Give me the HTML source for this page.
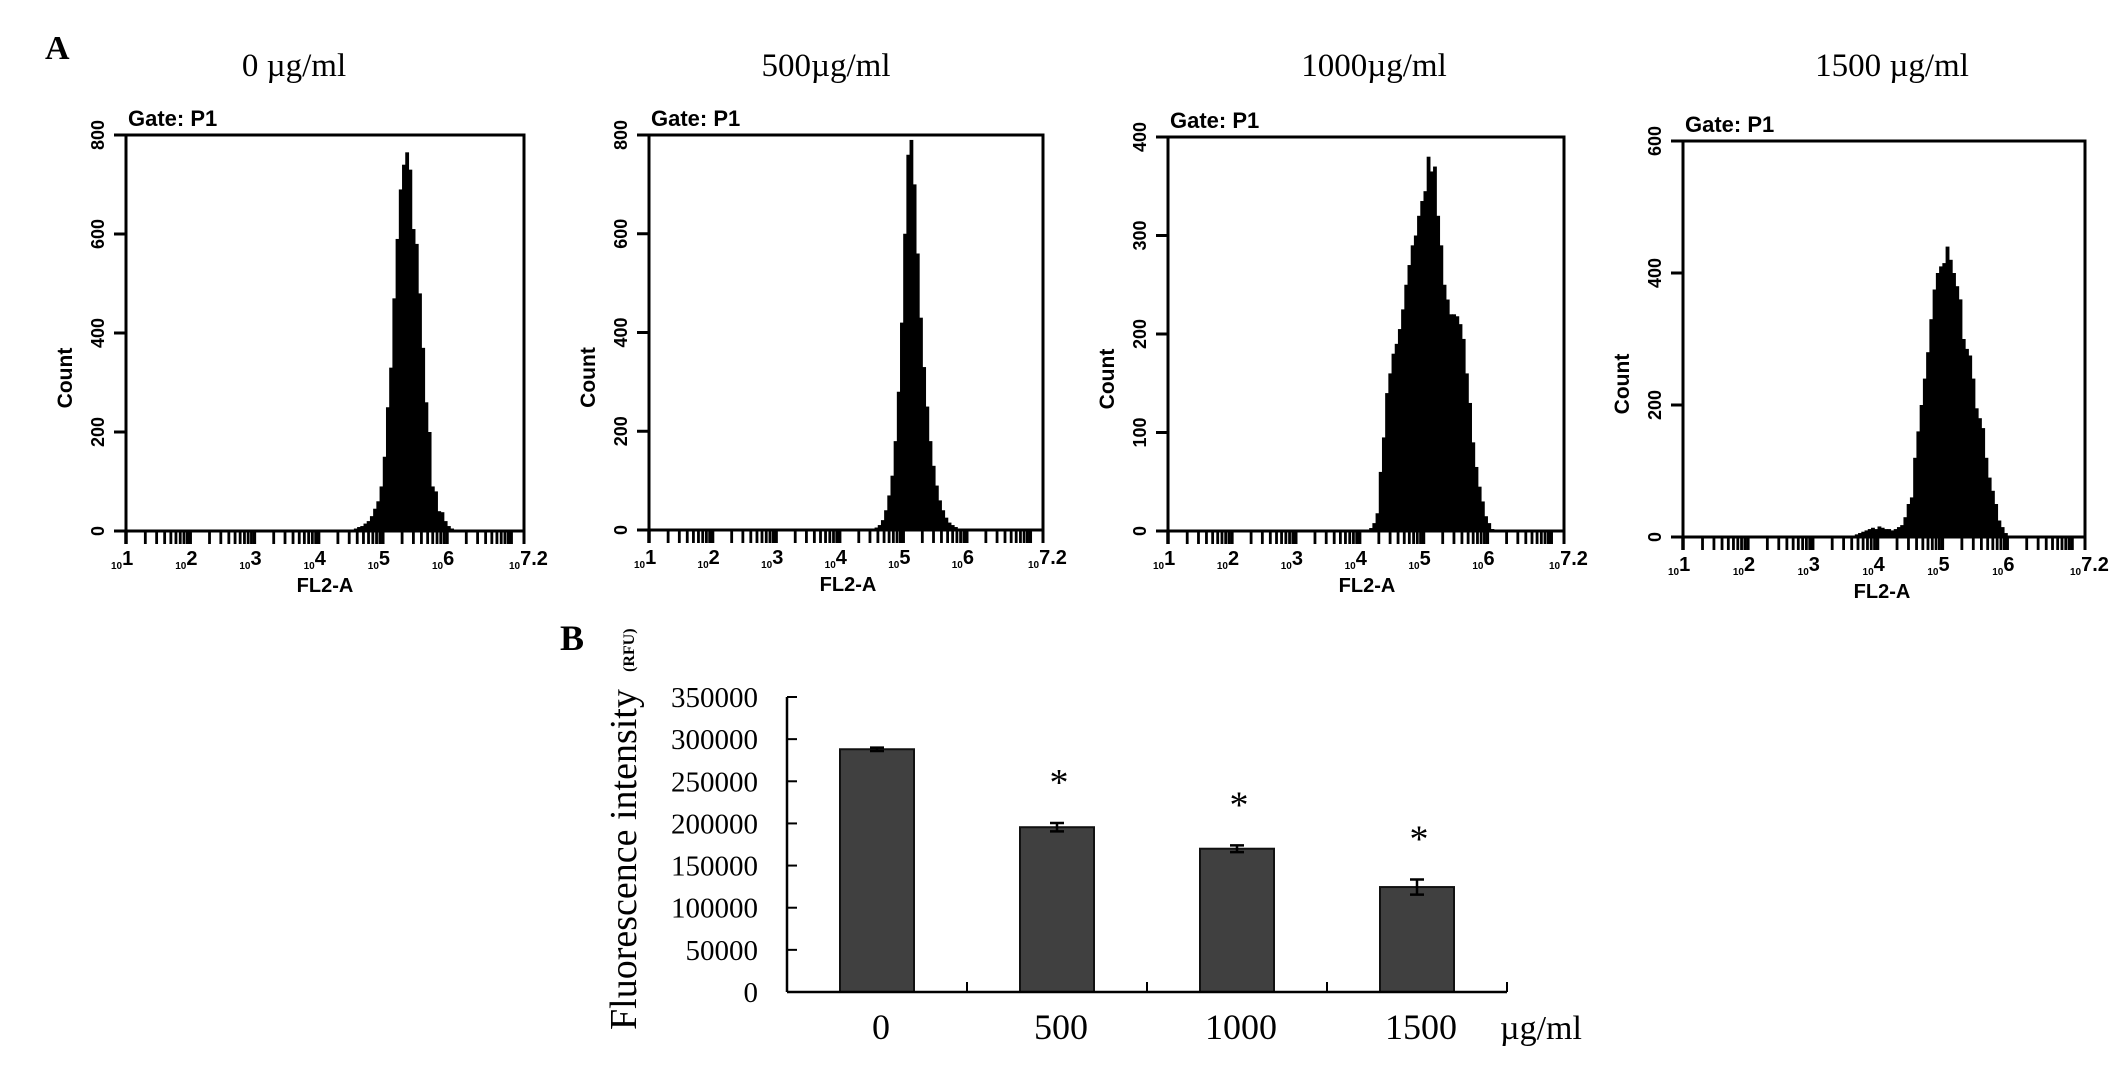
<!DOCTYPE html>
<html><head><meta charset="utf-8">
<style>
html,body{margin:0;padding:0;background:#fff;}
svg{display:block;}
.serif{font-family:"Liberation Serif",serif;}
.sans{font-family:"Liberation Sans",sans-serif;font-weight:bold;}
</style></head>
<body>
<svg id="fig" width="2126" height="1071" viewBox="0 0 2126 1071" xmlns="http://www.w3.org/2000/svg">
<rect width="2126" height="1071" fill="#fff"/>
<text x="45" y="59" class="serif" font-size="34" font-weight="bold">A</text>
<text x="560" y="650" class="serif" font-size="36" font-weight="bold">B</text>
</svg>
<script>
// ---------- Panel A data ----------
const panelTitles = ["0 \u00b5g/ml", "500\u00b5g/ml", "1000\u00b5g/ml", "1500 \u00b5g/ml"];
const yMaxes = [800, 800, 400, 600];
const yTicks0 = [0, 200, 400, 600, 800];
const yTicks1 = [0, 200, 400, 600, 800];
const yTicks2 = [0, 100, 200, 300, 400];
const yTicks3 = [0, 200, 400, 600];
const xDecades = ["1", "2", "3", "4", "5", "6", "7.2"];
const binStart0 = 4.5;
const counts0 = [3,5,8,10,15,20,30,45,60,90,150,250,330,470,590,690,740,765,730,610,580,480,370,260,200,90,80,40,38,20,10,5,3,1];
const binStart1 = 4.55;
const counts1 = [5,10,20,40,70,110,180,280,420,600,760,790,700,560,430,330,250,180,130,90,60,40,25,15,10,6,3,1];
const binStart2 = 4.15;
const counts2 = [3,8,18,60,95,140,160,180,190,205,225,250,270,290,300,320,335,345,380,365,370,320,290,250,235,220,220,218,210,195,160,130,90,65,45,30,15,8,2];
const binStart3 = 3.6;
const counts3 = [2,4,6,8,10,12,14,12,16,14,12,12,10,12,15,18,30,50,60,120,160,200,240,280,330,375,400,410,415,440,420,400,380,360,300,285,275,240,195,180,165,120,90,70,50,25,15,6,2];
const binWidth = 0.05;

// ---------- Panel B data ----------
const barCategories = ["0", "500", "1000", "1500"];
const barValues = [288000, 195500, 170000, 124500];
const barErrors = [2000, 5000, 4000, 9000];
const barSignificant = [false, true, true, true];
const barYTicks = [0, 50000, 100000, 150000, 200000, 250000, 300000, 350000];

const NS = "http://www.w3.org/2000/svg";
const svg = document.getElementById("fig");
function mk(tag, attrs, parent) {
  const e = document.createElementNS(NS, tag);
  for (const k in attrs) e.setAttribute(k, attrs[k]);
  (parent || svg).appendChild(e);
  return e;
}

const frames = [
  {l:126, r:524, t:135, b:531, tc:294},
  {l:649, r:1043, t:135, b:530, tc:826},
  {l:1168, r:1564, t:137, b:531, tc:1374},
  {l:1683, r:2085, t:141, b:537, tc:1892}
];
const allTicks = [yTicks0, yTicks1, yTicks2, yTicks3];
const allCounts = [counts0, counts1, counts2, counts3];
const allStarts = [binStart0, binStart1, binStart2, binStart3];

frames.forEach((f, i) => {
  const g = mk("g", {});
  
  
  const xs = v => f.l + (v - 1) / 6.2 * (f.r - f.l);
  const ys = v => f.b - v / yMaxes[i] * (f.b - f.t);

  const title = mk("text", {x: f.tc, y: 76, "text-anchor": "middle", class: "serif", "font-size": 33}, g);
  title.textContent = panelTitles[i];
  
  

  const gate = mk("text", {x: f.l + 2, y: f.t - 9, class: "sans", "font-size": 22}, g);
  gate.textContent = "Gate: P1";
  
  

  const hist = mk("g", {}, g);
  
  
  allCounts[i].forEach((c, k) => {
    const lo = allStarts[i] + k * binWidth;
    const x0 = xs(lo), x1 = xs(lo + binWidth);
    const r = mk("rect", {x: x0, y: ys(c), width: x1 - x0 + 0.6, height: f.b - ys(c), fill: "#000"}, hist);
    
    
  });

  const fr = mk("rect", {x: f.l, y: f.t, width: f.r - f.l, height: f.b - f.t, fill: "none", stroke: "#000", "stroke-width": 3}, g);
  
  

  allTicks[i].forEach(v => {
    mk("line", {x1: f.l - 12, x2: f.l, y1: ys(v), y2: ys(v), stroke: "#000", "stroke-width": 3}, g);
    const t = mk("text", {x: 0, y: 0, "text-anchor": "middle", class: "sans", "font-size": 18,
      transform: `translate(${f.l - 22},${ys(v)}) rotate(-90)`}, g);
    t.textContent = v;
    
    
  });
  const cl = mk("text", {x: 0, y: 0, "text-anchor": "middle", class: "sans", "font-size": 21,
    transform: `translate(${f.l - 54},${(f.t + f.b) / 2 + 45}) rotate(-90)`}, g);
  cl.textContent = "Count";
  
  

  for (let d = 1; d < 7.2; d++) {
    for (let m = 1; m <= 9; m++) {
      const lv = d + Math.log10(m);
      if (lv > 7.2) break;
      mk("line", {x1: xs(lv), x2: xs(lv), y1: f.b, y2: f.b + 13, stroke: "#000", "stroke-width": m === 1 ? 3.5 : 2.8}, g);
    }
  }
  mk("line", {x1: f.r, x2: f.r, y1: f.b, y2: f.b + 13, stroke: "#000", "stroke-width": 3}, g);
  xDecades.forEach(e => {
    const px = xs(parseFloat(e));
    const t = mk("text", {x: px, y: f.b + 34, class: "sans", "font-size": 20}, g);
    const s1 = mk("tspan", {"font-size": 10, dx: -15, dy: 4}, t); s1.textContent = "10";
    const s2 = mk("tspan", {dy: -4}, t); s2.textContent = e;
    
    
  });
  const xl = mk("text", {x: f.l + 199, y: f.b + 61, "text-anchor": "middle", class: "sans", "font-size": 20}, g);
  xl.textContent = "FL2-A";
  
  
});

// ---------- Panel B ----------
const B = {l: 787, r: 1507, t: 697, b: 992, max: 350000};
const by = v => B.b - v / B.max * (B.b - B.t);
const band = (B.r - B.l) / barCategories.length;
const bx = i => B.l + band * (i + 0.5);
const gb = mk("g", {});



barValues.forEach((v, i) => {
  const r = mk("rect", {x: bx(i) - 37, y: by(v), width: 74, height: B.b - by(v), fill: "#404040", stroke: "#111", "stroke-width": 2}, gb);
  
  
  const e = barErrors[i];
  const eb = mk("path", {d: `M${bx(i)-7},${by(v+e)}H${bx(i)+7}M${bx(i)},${by(v+e)}V${by(v-e)}M${bx(i)-7},${by(v-e)}H${bx(i)+7}`, stroke: "#000", "stroke-width": 2.5, fill: "none"}, gb);
  
  
  if (barSignificant[i]) {
    const s = mk("text", {x: bx(i) + 2, y: by(v + e) - 28, "text-anchor": "middle", class: "serif", "font-size": 38}, gb);
    s.textContent = "*";
    
    
  }
  const lab = mk("text", {x: bx(i) + 4, y: 1039, "text-anchor": "middle", class: "serif", "font-size": 36}, gb);
  lab.textContent = barCategories[i];
  
  
});
mk("line", {x1: B.l, x2: B.l, y1: B.t, y2: B.b, stroke: "#000", "stroke-width": 2.5}, gb);
mk("line", {x1: B.l, x2: B.r, y1: B.b, y2: B.b, stroke: "#000", "stroke-width": 2.5}, gb);
for (let i = 1; i <= barCategories.length; i++) {
  mk("line", {x1: B.l + band * i, x2: B.l + band * i, y1: B.b, y2: B.b - 10, stroke: "#000", "stroke-width": 2}, gb);
}
barYTicks.forEach(v => {
  mk("line", {x1: B.l, x2: B.l + 10, y1: by(v), y2: by(v), stroke: "#000", "stroke-width": 2}, gb);
  const t = mk("text", {x: 758, y: by(v) + 10, "text-anchor": "end", class: "serif", "font-size": 29}, gb);
  t.textContent = v;
  
  
});
const unit = mk("text", {x: 1500, y: 1039, class: "serif", "font-size": 34}, gb);
unit.textContent = "\u00b5g/ml";


const yt = mk("text", {x: 0, y: 0, class: "serif", "font-size": 38, transform: "translate(636,1030) rotate(-90)"}, gb);
yt.textContent = "Fluorescence intensity";


const rfu = mk("text", {x: 0, y: 0, class: "serif", "font-size": 16, "font-weight": "bold", transform: "translate(634,672) rotate(-90)"}, gb);
rfu.textContent = "(RFU)";


</script>
</body></html>
